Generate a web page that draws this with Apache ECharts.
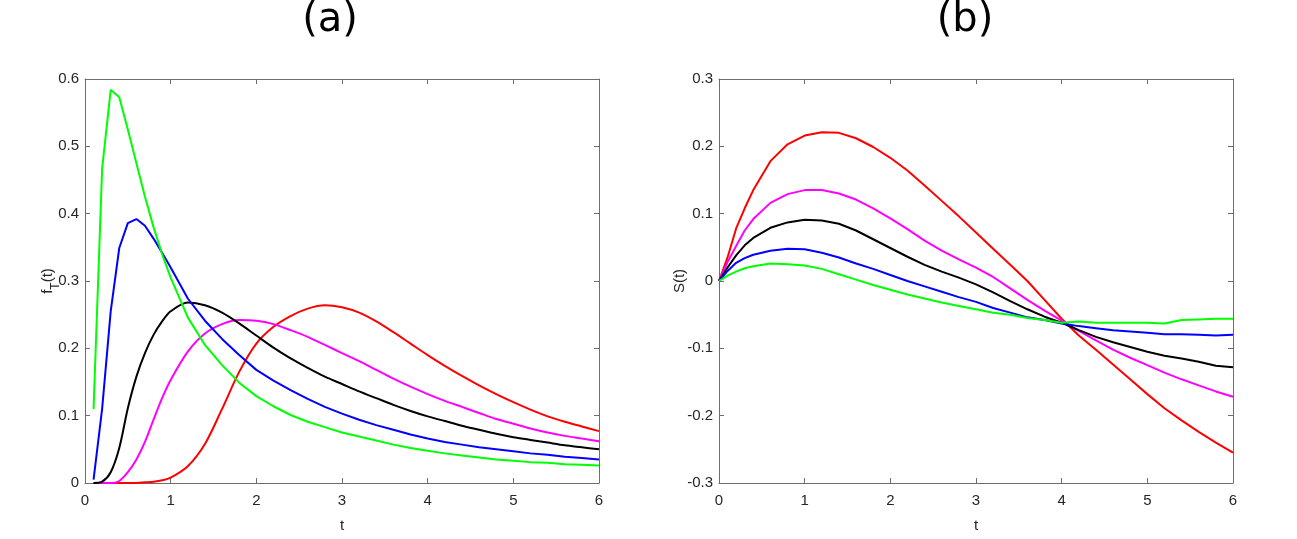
<!DOCTYPE html>
<html>
<head>
<meta charset="utf-8">
<script src="https://cdn.jsdelivr.net/npm/echarts@6/dist/echarts.min.js"></script>
<style>
  html, body { margin: 0; padding: 0; background: #fff; }
  #chart { width: 1297px; height: 539px; }
</style>
</head>
<body>
<div id="chart"></div>
<script>
// panel (a): density f_T(t)
const tA = [0.1, 0.2, 0.3, 0.4, 0.5, 0.6, 0.7, 0.8, 0.9, 1.0,
  1.2, 1.4, 1.6, 1.8, 2.0, 2.2, 2.4, 2.6, 2.8, 3.0, 3.2, 3.4, 3.6, 3.8, 4.0,
  4.2, 4.4, 4.6, 4.8, 5.0, 5.2, 5.4, 5.6, 5.8, 6.0]
const redA = [0, 0, 0, 0, 0, 0, 0.001, 0.002, 0.004, 0.008,
  0.025, 0.058, 0.11, 0.165, 0.207, 0.232, 0.248, 0.259, 0.264, 0.261, 0.253, 0.24, 0.224, 0.207, 0.19,
  0.174, 0.159, 0.145, 0.132, 0.12, 0.109, 0.099, 0.091, 0.084, 0.077]
const magentaA = [0, 0, 0, 0.003, 0.016, 0.035, 0.061, 0.094, 0.126, 0.153,
  0.195, 0.222, 0.236, 0.242, 0.241, 0.236, 0.227, 0.217, 0.205, 0.193, 0.181, 0.168, 0.155, 0.143, 0.132,
  0.122, 0.113, 0.104, 0.095, 0.088, 0.081, 0.075, 0.07, 0.066, 0.062]
const blackA = [0, 0.002, 0.016, 0.052, 0.111, 0.158, 0.193, 0.22, 0.24, 0.255,
  0.268, 0.264, 0.253, 0.237, 0.219, 0.201, 0.185, 0.171, 0.158, 0.147, 0.136, 0.126, 0.116, 0.107, 0.099,
  0.092, 0.085, 0.079, 0.073, 0.068, 0.064, 0.06, 0.056, 0.053, 0.05]
const blueA = [0.005, 0.11, 0.255, 0.349, 0.386, 0.392, 0.382, 0.363, 0.342, 0.32,
  0.274, 0.241, 0.214, 0.19, 0.168, 0.152, 0.138, 0.125, 0.113, 0.103, 0.094, 0.086, 0.079, 0.072, 0.066,
  0.061, 0.057, 0.053, 0.05, 0.047, 0.044, 0.042, 0.039, 0.037, 0.035]
const greenA = [0.11, 0.467, 0.584, 0.573, 0.525, 0.475, 0.425, 0.38, 0.34, 0.305,
  0.246, 0.205, 0.175, 0.149, 0.129, 0.114, 0.101, 0.091, 0.083, 0.075, 0.069, 0.063, 0.057, 0.052, 0.048,
  0.044, 0.041, 0.038, 0.035, 0.033, 0.031, 0.03, 0.028, 0.027, 0.026]

// panel (b): S(t)
const tB = [0, 0.1, 0.2, 0.3, 0.4,
  0.6, 0.8, 1.0, 1.2, 1.4, 1.6, 1.8, 2.0, 2.2, 2.4, 2.6, 2.8, 3.0, 3.2, 3.4, 3.6, 3.8, 4.0,
  4.2, 4.4, 4.6, 4.8, 5.0, 5.2, 5.4, 5.6, 5.8, 6.0]
const redB = [0, 0.035, 0.078, 0.108, 0.135,
  0.178, 0.203, 0.216, 0.221, 0.22, 0.212, 0.199, 0.183, 0.164, 0.142, 0.119, 0.096, 0.072, 0.048, 0.024, 0, -0.028, -0.056,
  -0.081, -0.102, -0.124, -0.146, -0.168, -0.189, -0.207, -0.224, -0.24, -0.255]
const magentaB = [0, 0.028, 0.052, 0.075, 0.092,
  0.116, 0.129, 0.135, 0.135, 0.13, 0.121, 0.108, 0.093, 0.077, 0.06, 0.045, 0.032, 0.02, 0.006, -0.011, -0.028, -0.044, -0.059,
  -0.074, -0.088, -0.102, -0.114, -0.125, -0.136, -0.146, -0.155, -0.164, -0.172]
const blackB = [0, 0.02, 0.038, 0.053, 0.064,
  0.079, 0.087, 0.091, 0.09, 0.085, 0.075, 0.062, 0.049, 0.036, 0.024, 0.014, 0.005, -0.005, -0.017, -0.03, -0.042, -0.053, -0.062,
  -0.073, -0.083, -0.091, -0.098, -0.105, -0.111, -0.115, -0.12, -0.126, -0.128]
const blueB = [0, 0.015, 0.027, 0.034, 0.039,
  0.045, 0.048, 0.047, 0.042, 0.035, 0.026, 0.018, 0.009, 0, -0.008, -0.016, -0.024, -0.031, -0.04, -0.047, -0.054, -0.058, -0.063,
  -0.067, -0.07, -0.073, -0.075, -0.077, -0.079, -0.079, -0.08, -0.081, -0.08]
const greenB = [0, 0.008, 0.014, 0.019, 0.022,
  0.026, 0.025, 0.023, 0.018, 0.01, 0.002, -0.006, -0.013, -0.02, -0.026, -0.032, -0.037, -0.042, -0.047, -0.05, -0.055, -0.058, -0.062,
  -0.06, -0.062, -0.062, -0.062, -0.062, -0.063, -0.058, -0.057, -0.056, -0.056]

const xTicks = [0, 1, 2, 3, 4, 5, 6]

const AXIS = '#6e6e6e'
const TEXT = '#262626'
const FONT = '"Liberation Sans", Arial, sans-serif'

const grids = [
  { left: 85, top: 79, width: 514, height: 404 },
  { left: 719, top: 79, width: 514, height: 404 },
]

function pairs(t, v) {
  return t.map((x, i) => [x, v[i]])
}

function xAxisFor(gridIndex, top) {
  return {
    type: 'value', gridIndex, min: xTicks[0], max: xTicks[xTicks.length - 1], interval: 1,
    position: top ? 'top' : 'bottom',
    name: top ? '' : 't', nameLocation: 'middle', nameGap: 35,
    nameTextStyle: { color: TEXT, fontSize: 15, fontFamily: FONT },
    axisLine: { show: true, onZero: false, lineStyle: { color: AXIS, width: 1 } },
    axisTick: { show: true, inside: true, length: 5, lineStyle: { color: AXIS } },
    axisLabel: { show: !top, color: TEXT, fontSize: 15, fontFamily: FONT, margin: 10 },
    splitLine: { show: false },
  }
}

function yAxisFor(gridIndex, right, min, max, name, gap, rich) {
  return {
    type: 'value', gridIndex, min, max, interval: 0.1,
    position: right ? 'right' : 'left',
    name: right ? '' : name, nameLocation: 'middle', nameGap: gap, nameRotate: 90,
    nameMoveOverlap: false,
    nameTextStyle: { color: TEXT, fontSize: 15, fontFamily: FONT, rich },
    axisLine: { show: true, onZero: false, lineStyle: { color: AXIS, width: 1 } },
    axisTick: { show: true, inside: true, length: 5, lineStyle: { color: AXIS } },
    axisLabel: {
      show: !right, color: TEXT, fontSize: 15, fontFamily: FONT, margin: 6,
      formatter: (v) => String(Math.round(v * 10) / 10),
    },
    splitLine: { show: false },
  }
}

const fRich = {
  n: { fontSize: 15, fontFamily: FONT, color: TEXT, lineHeight: 22, verticalAlign: 'top' },
  s: { fontSize: 12, fontFamily: FONT, color: TEXT, lineHeight: 22, verticalAlign: 'bottom' },
}

const colors = ['#ff0000', '#ff00ff', '#000000', '#0000ff', '#00ff00']
const seriesA = [redA, magentaA, blackA, blueA, greenA]
const seriesB = [redB, magentaB, blackB, blueB, greenB]
// the smooth bell curves in (a); green and blue keep their sharp early corners
const smoothA = [true, true, true, false, false]

function lineSeries(t, v, color, xi, yi, smooth) {
  return {
    type: 'line', data: pairs(t, v), xAxisIndex: xi, yAxisIndex: yi,
    showSymbol: false, smooth: smooth ? 0.3 : false, animation: false,
    lineStyle: { color, width: 2 }, itemStyle: { color },
  }
}

const chart = echarts.init(document.getElementById('chart'), null, { renderer: 'canvas' })
chart.setOption({
  backgroundColor: '#ffffff',
  animation: false,
  graphic: [
    { type: 'text', x: 330, y: 21, style: { text: '(a)', font: '40px "DejaVu Sans", sans-serif', fill: '#000', align: 'center', verticalAlign: 'middle' } },
    { type: 'text', x: 965, y: 21, style: { text: '(b)', font: '40px "DejaVu Sans", sans-serif', fill: '#000', align: 'center', verticalAlign: 'middle' } },
  ],
  grid: grids,
  xAxis: [xAxisFor(0, false), xAxisFor(0, true), xAxisFor(1, false), xAxisFor(1, true)],
  yAxis: [
    yAxisFor(0, false, 0, 0.6, '{n|f}{s|T}{n|(t)}', 23, fRich),
    yAxisFor(0, true, 0, 0.6, '', 0, null),
    yAxisFor(1, false, -0.3, 0.3, 'S(t)', 32, null),
    yAxisFor(1, true, -0.3, 0.3, '', 0, null),
  ],
  series: [
    ...seriesA.map((v, i) => lineSeries(tA, v, colors[i], 0, 0, smoothA[i])),
    ...seriesB.map((v, i) => lineSeries(tB, v, colors[i], 2, 2, false)),
  ],
})
</script>
</body>
</html>
